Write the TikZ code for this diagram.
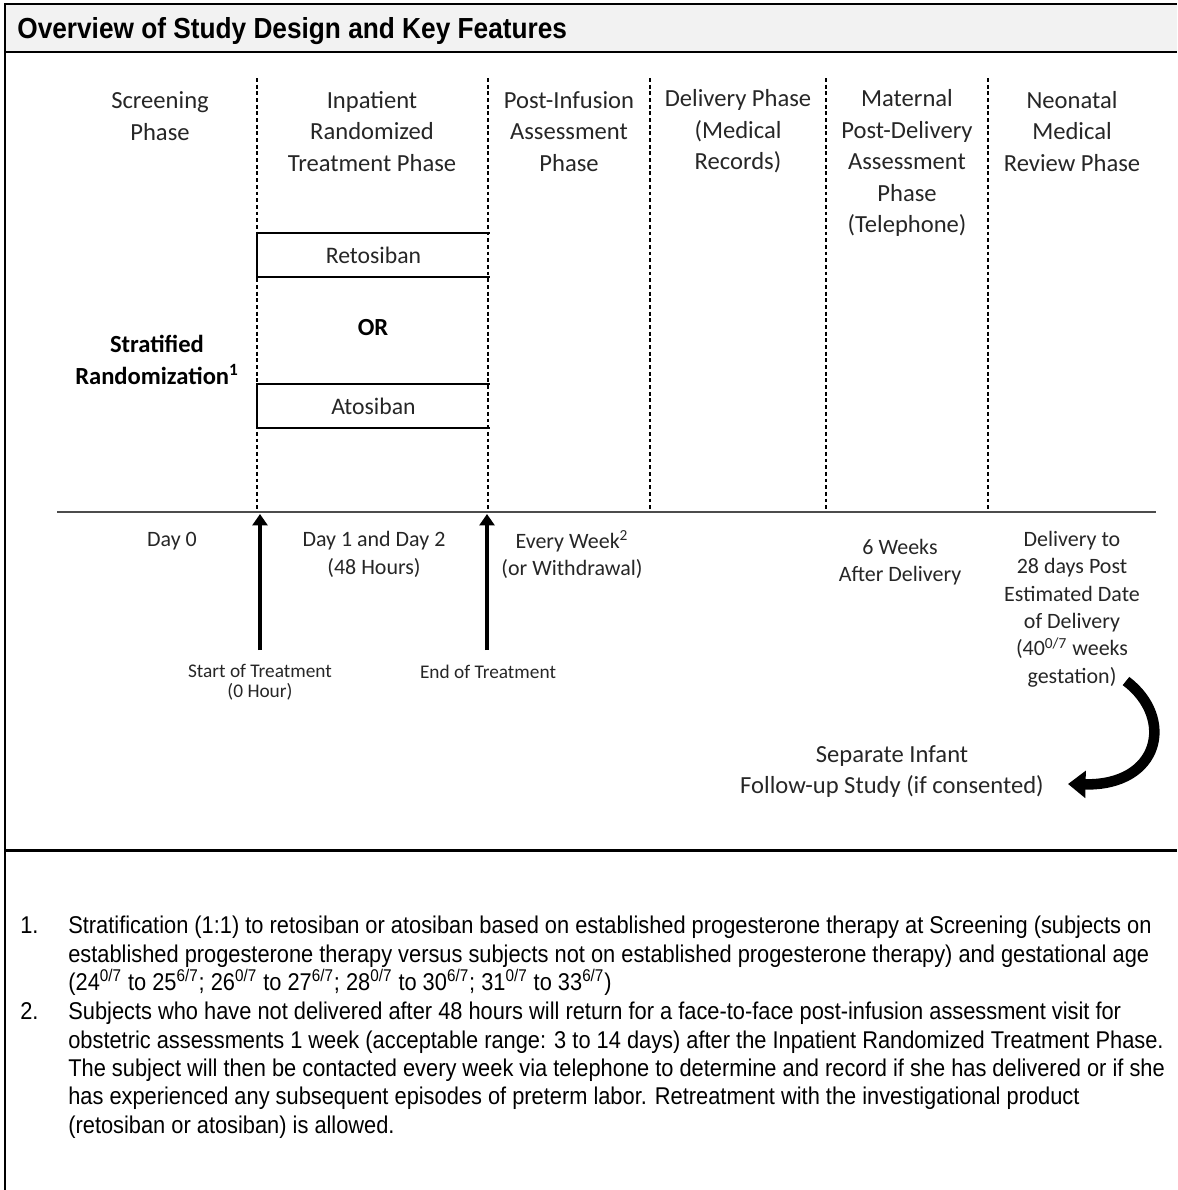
\documentclass[tikz,border=0pt]{standalone}
\usepackage{fontspec}
\setmainfont{Carlito}
\newfontfamily\notefont{Liberation Sans}[FakeStretch=0.9]
\newfontfamily\headfont{Liberation Sans}[FakeStretch=0.905]
\usetikzlibrary{positioning,arrows.meta}

\begin{document}
\begin{tikzpicture}[x=0.02cm,y=-0.02cm,every node/.style={inner sep=0pt,align=center}]
	\tikzset{
		phase/.style={text=black!85,font=\fontsize{14}{17.9}\selectfont},
		timing/.style={text=black!85,font=\fontsize{12.5}{15.6}\selectfont},
		mark label/.style={text=black!85,font=\fontsize{11}{11.6}\selectfont},
		arm/.style={minimum width=4.64cm,minimum height=0.88cm,text=black!85,font=\fontsize{13.5}{16}\selectfont},
		armline/.style={line width=1pt},
		colsep/.style={line width=0.6pt,dash pattern=on 2.2pt off 1.6pt},
		frameline/.style={line width=1.7pt},
		notenum/.style={anchor=north west,font=\notefont\fontsize{13.8}{16.1}\selectfont},
		note/.style={anchor=north west,align=left,font=\notefont\fontsize{13.8}{16.1}\selectfont},
		treat/.style={line width=2.6pt,-{Triangle[width=8.5pt,length=6.5pt]}},
		follow/.style={line width=6pt,-{Triangle[width=15pt,length=10pt]}}
	}
	\useasboundingbox (0,0) rectangle (1177,1190);
	% Frame and title band
	\fill[black!5] (5,4) rectangle (1177,52);
	\draw[frameline] (5,1190) -- (5,4) -- (1177,4);
	\draw[frameline] (5,52) -- (1177,52);
	\draw[frameline] (5,850) -- (1177,850);
	\node[anchor=base west,font=\headfont\bfseries\fontsize{16.5}{19}\selectfont] (title) at (17,38) {Overview of Study Design and Key Features};

	% Phase columns
	\foreach \x in {257,488,650,826,988}
		\draw[colsep] (\x,78) -- (\x,512);
	\draw[line width=1.2pt,black!70] (57,512) -- (1156,512);

	\node[phase] (screen) at (160,116) {Screening\\Phase};
	\node[phase] (inpat) at (372,131.5) {Inpatient\\Randomized\\Treatment Phase};
	\node[phase] (postinf) at (569,131.5) {Post-Infusion\\Assessment\\Phase};
	\node[phase] (deliv) at (738,131.5) {Delivery Phase\\(Medical\\Records)};
	\node[phase] (matern) at (907,163) {Maternal\\Post-Delivery\\Assessment\\Phase\\(Telephone)};
	\node[phase] (neonat) at (1072,131.5) {Neonatal\\Medical\\Review Phase};

	% Randomized arms
	\node[arm] (reto) at (373.5,255) {Retosiban};
	\draw[armline] (reto.north east) -- (reto.north west) -- (reto.south west) -- (reto.south east);
	\node[phase,font=\bfseries\fontsize{14}{17.9}\selectfont,text=black] (or) at (373,328) {OR};
	\node[arm] (atos) at (373.5,406) {Atosiban};
	\draw[armline] (atos.north east) -- (atos.north west) -- (atos.south west) -- (atos.south east);
	\node[phase,font=\bfseries\fontsize{14}{17.9}\selectfont,text=black] (strat) at (157,360) {Stratified\\Randomization\textsuperscript{1}};

	% Timing below the axis
	\node[timing] (day0) at (172,541) {Day 0};
	\node[timing] (day12) at (374,554.5) {Day 1 and Day 2\\(48 Hours)};
	\node[timing] (week) at (572,554.5) {Every Week\textsuperscript{2}\\(or Withdrawal)};
	\node[timing] (sixwk) at (900,562) {6 Weeks\\After Delivery};
	\node[timing] (deltwo) at (1072,609) {Delivery to\\28 days Post\\Estimated Date\\of Delivery\\(40\textsuperscript{0/7} weeks\\gestation)};

	\coordinate (s0) at (260,650);
	\coordinate (s1) at (260,514);
	\coordinate (e0) at (487,650);
	\coordinate (e1) at (487,514);
	\draw[treat] (s0) -- (s1);
	\draw[treat] (e0) -- (e1);
	\node[mark label] (start) at (260,682) {Start of Treatment\\(0 Hour)};
	\node[mark label] (end) at (488,672) {End of Treatment};

	\node[phase] (infant) at (892,771.5) {Separate Infant\\Follow-up Study (if consented)};
	\coordinate (g0) at (1126,681);
	\coordinate (g1) at (1068,784);
	\draw[follow] (g0) .. controls (1175,718) and (1160,786) .. (g1);

	% Footnotes
	\node[notenum] (n1) at (20,916) {1.};
	\node[note] (f1) at (68,916) {Stratification (1:1) to retosiban or atosiban based on established progesterone therapy at Screening (subjects on\\
		established progesterone therapy versus subjects not on established progesterone therapy) and gestational age\\
		(24\textsuperscript{0/7} to 25\textsuperscript{6/7}; 26\textsuperscript{0/7} to 27\textsuperscript{6/7}; 28\textsuperscript{0/7} to 30\textsuperscript{6/7}; 31\textsuperscript{0/7} to 33\textsuperscript{6/7})};
	\node[notenum] (n2) at (20,1002) {2.};
	\node[note] (f2) at (68,1002) {Subjects who have not delivered after 48 hours will return for a face-to-face post-infusion assessment visit for\\
		obstetric assessments 1 week (acceptable range: 3 to 14 days) after the Inpatient Randomized Treatment Phase.\\
		The subject will then be contacted every week via telephone to determine and record if she has delivered or if she\\
		has experienced any subsequent episodes of preterm labor. Retreatment with the investigational product\\
		(retosiban or atosiban) is allowed.};
\end{tikzpicture}
\end{document}
